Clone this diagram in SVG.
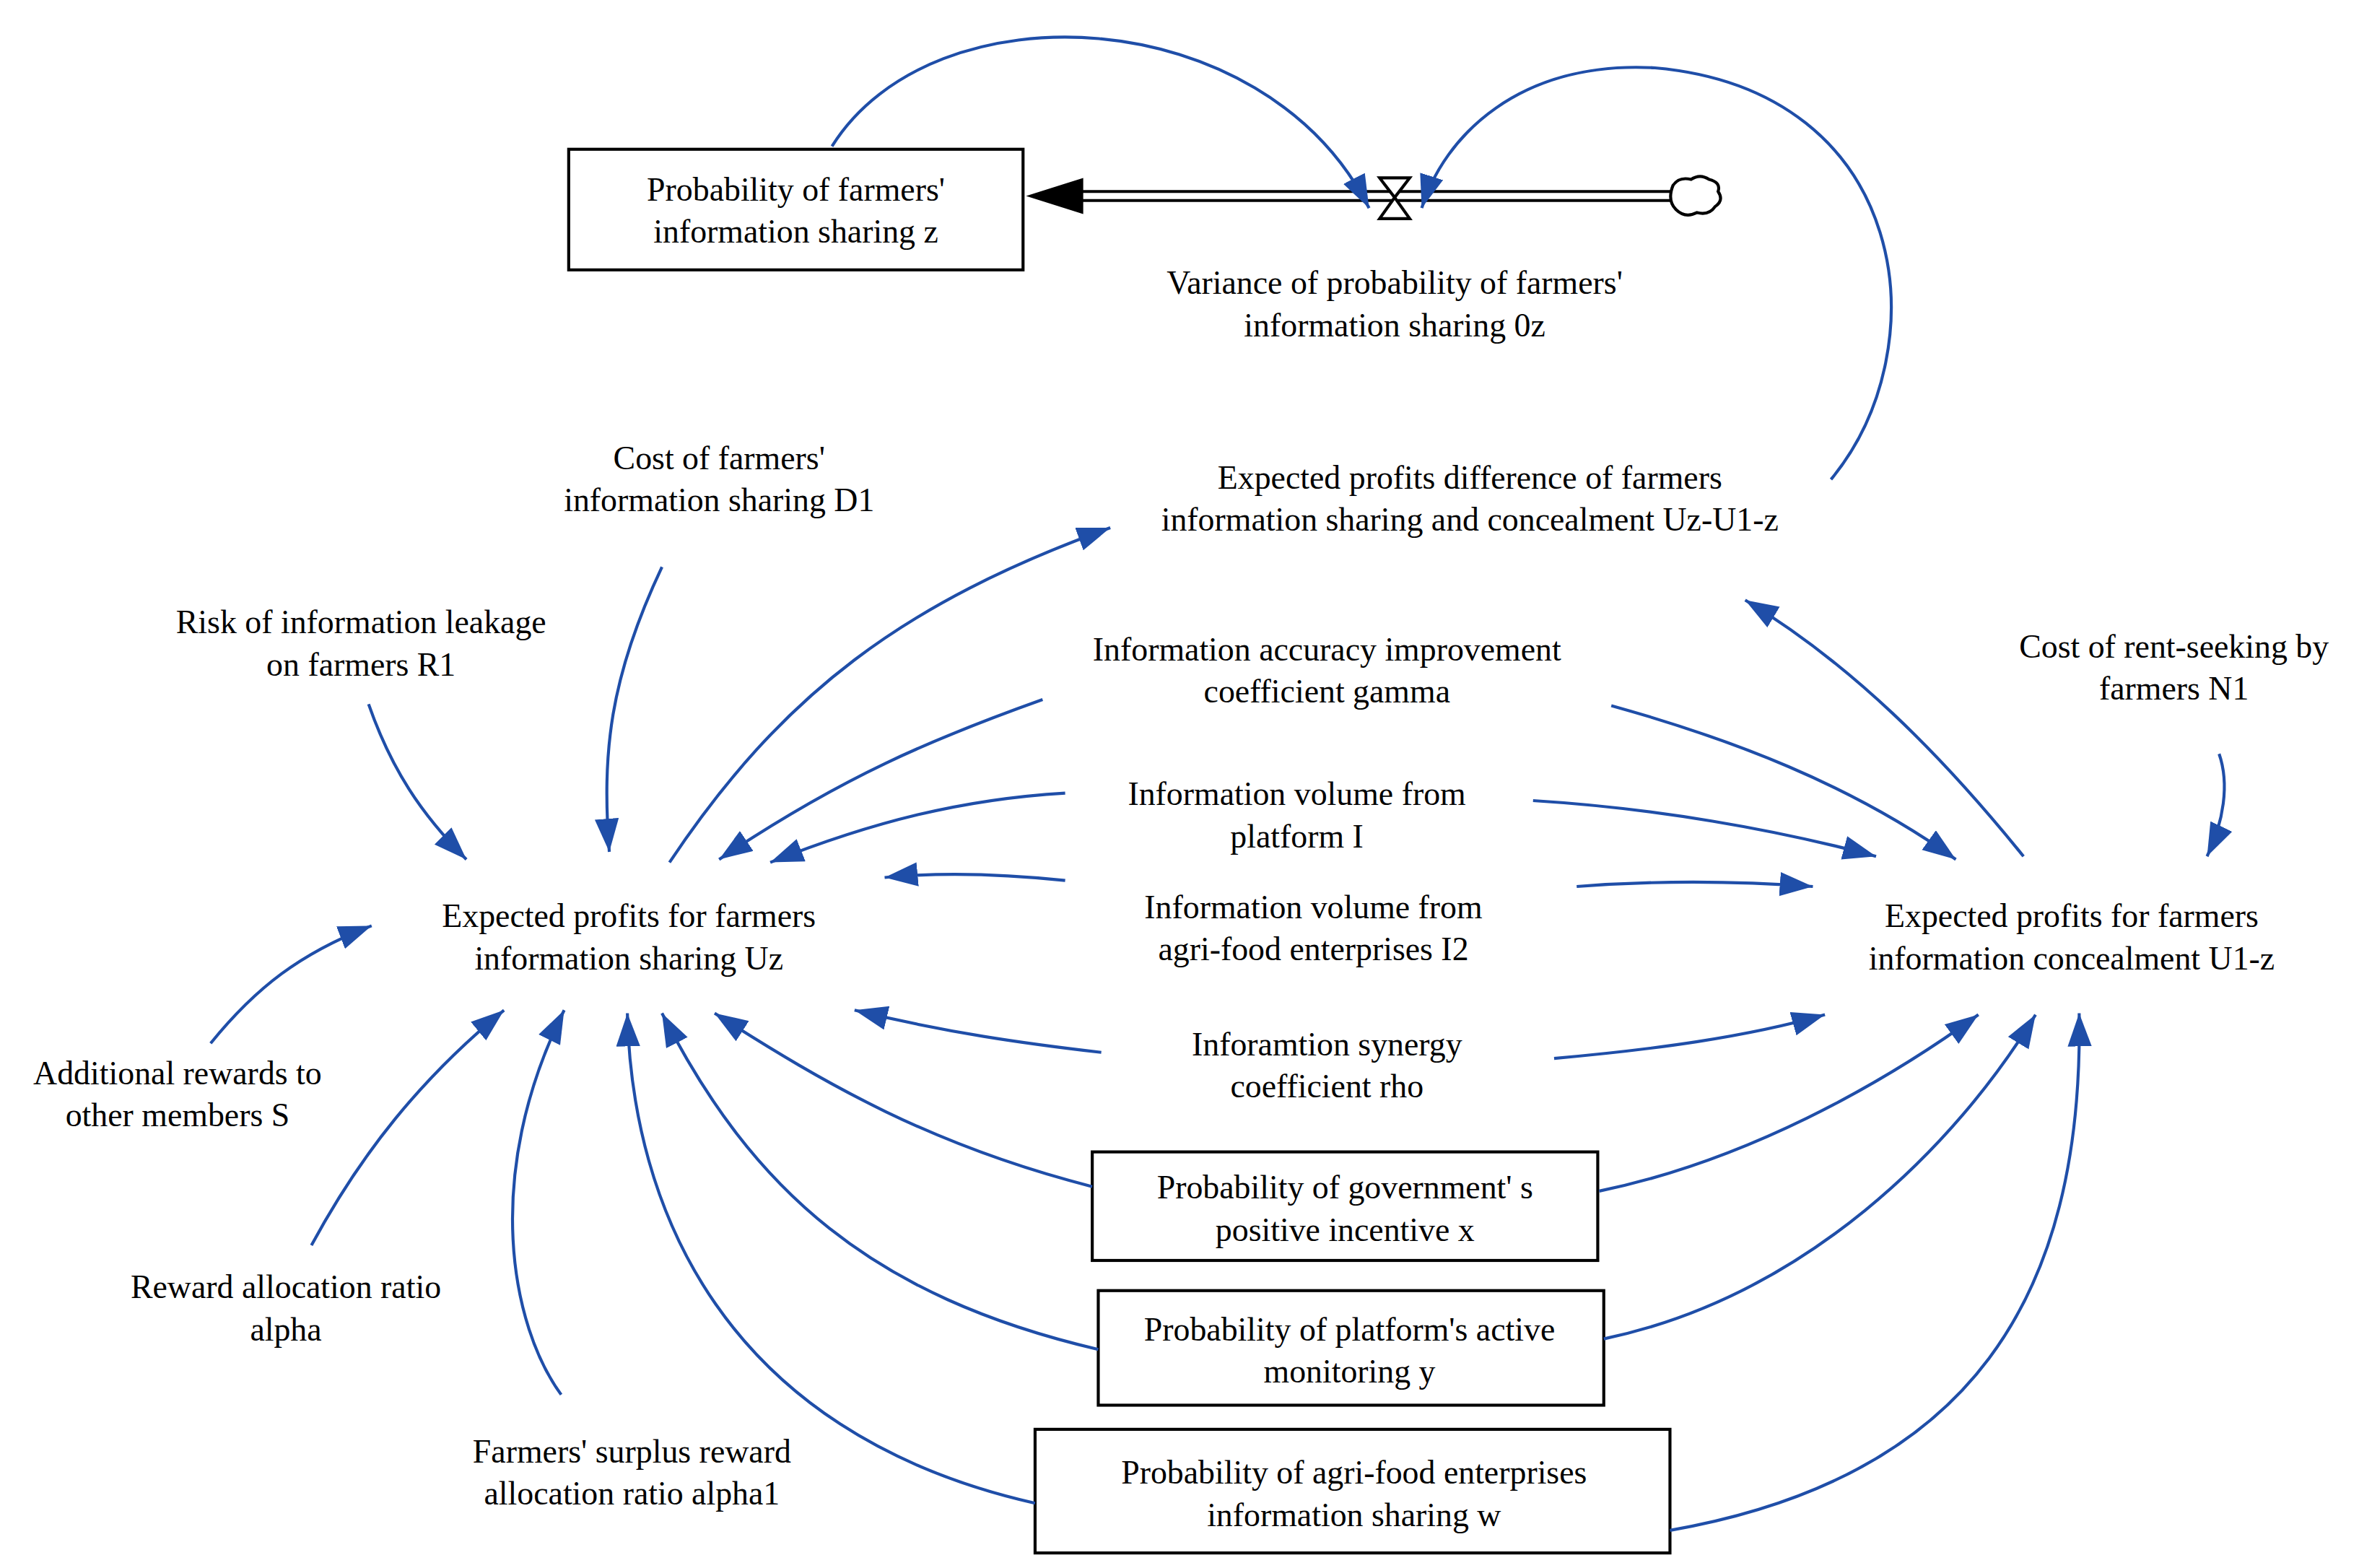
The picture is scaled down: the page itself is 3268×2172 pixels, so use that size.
<svg xmlns="http://www.w3.org/2000/svg" width="3268" height="2172" viewBox="0 0 3268 2172">
<style>
text{font-family:"Liberation Serif","Times New Roman",serif;font-size:22px;fill:#000;text-anchor:middle}
.c{fill:none;stroke:#1f4ea8;stroke-width:2}
.b{fill:#fff;stroke:#000;stroke-width:2}
</style>
<defs>
<marker id="a" markerUnits="userSpaceOnUse" markerWidth="24" markerHeight="18" refX="22" refY="8" orient="auto"><path d="M0,0 L22,8 L0,16 z" fill="#1f4ea8"/></marker>
</defs>
<rect width="3268" height="2172" fill="#fff"/>
<g transform="scale(2.0842,2.0885)">
<g id="stock-z"><rect class="b" x="378" y="99" width="302" height="80"/><text x="529" y="133">Probability of farmers'</text><text x="529" y="161">information sharing z</text></g>
<g id="flow">
<line x1="716" y1="127" x2="1112" y2="127" stroke="#000" stroke-width="2"/>
<line x1="716" y1="133" x2="1112" y2="133" stroke="#000" stroke-width="2"/>
<polygon points="682,130 720,118 720,142" fill="#000"/>
<polygon points="917,118 937,118 927,131" class="b"/>
<polygon points="917,145 937,145 927,131" class="b"/>
<path d="M1112,123 q4,-6 12,-4 q6,-4 12,0 q8,2 6,8 q4,6 -2,10 q-4,6 -12,4 q-8,4 -14,-2 q-6,-6 -2,-16 z" class="b"/>
<text x="927" y="195">Variance of probability of farmers'</text><text x="927" y="223">information sharing 0z</text>
</g>
<g id="D1"><text x="478" y="311">Cost of farmers'</text><text x="478" y="339">information sharing D1</text></g>
<g id="diff"><text x="977" y="324">Expected profits difference of farmers</text><text x="977" y="352">information sharing and concealment Uz-U1-z</text></g>
<g id="R1"><text x="240" y="420">Risk of information leakage</text><text x="240" y="448">on farmers R1</text></g>
<g id="gamma"><text x="882" y="438">Information accuracy improvement</text><text x="882" y="466">coefficient gamma</text></g>
<g id="N1"><text x="1445" y="436">Cost of rent-seeking by</text><text x="1445" y="464">farmers N1</text></g>
<g id="I"><text x="862" y="534">Information volume from</text><text x="862" y="562">platform I</text></g>
<g id="I2"><text x="873" y="609">Information volume from</text><text x="873" y="637">agri-food enterprises I2</text></g>
<g id="Uz"><text x="418" y="615">Expected profits for farmers</text><text x="418" y="643">information sharing Uz</text></g>
<g id="U1z"><text x="1377" y="615">Expected profits for farmers</text><text x="1377" y="643">information concealment U1-z</text></g>
<g id="rho"><text x="882" y="700">Inforamtion synergy</text><text x="882" y="728">coefficient rho</text></g>
<g id="S"><text x="118" y="719">Additional rewards to</text><text x="118" y="747">other members S</text></g>
<g id="x"><rect class="b" x="726" y="764" width="336" height="72"/><text x="894" y="795">Probability of government' s</text><text x="894" y="823">positive incentive x</text></g>
<g id="y"><rect class="b" x="730" y="856" width="336" height="76"/><text x="897" y="889">Probability of platform's active</text><text x="897" y="917">monitoring y</text></g>
<g id="w"><rect class="b" x="688" y="948" width="422" height="82"/><text x="900" y="984">Probability of agri-food enterprises</text><text x="900" y="1012">information sharing w</text></g>
<g id="alpha"><text x="190" y="861">Reward allocation ratio</text><text x="190" y="889">alpha</text></g>
<g id="alpha1"><text x="420" y="970">Farmers' surplus reward</text><text x="420" y="998">allocation ratio alpha1</text></g>
<g id="connectors" marker-end="url(#a)">
<path class="c" marker-end="url(#a)" d="M553,97 C620,-10 840,0 910,138"/>
<path class="c" marker-end="url(#a)" d="M1217,318 C1290,230 1270,60 1100,45 C1010,40 960,90 945,138"/>
<path class="c" marker-end="url(#a)" d="M440,376 C405,450 400,500 405,565"/>
<path class="c" marker-end="url(#a)" d="M245,467 C260,510 280,540 310,570"/>
<path class="c" marker-end="url(#a)" d="M445,572 C520,460 600,400 738,350"/>
<path class="c" marker-end="url(#a)" d="M693,464 C620,490 560,515 478,570"/>
<path class="c" marker-end="url(#a)" d="M708,526 C640,530 580,545 512,572"/>
<path class="c" marker-end="url(#a)" d="M708,584 C670,580 630,578 588,582"/>
<path class="c" marker-end="url(#a)" d="M732,698 C680,692 630,685 568,670"/>
<path class="c" marker-end="url(#a)" d="M726,787 C620,760 550,720 475,672"/>
<path class="c" marker-end="url(#a)" d="M730,895 C580,860 500,790 440,672"/>
<path class="c" marker-end="url(#a)" d="M688,997 C480,950 420,800 417,672"/>
<path class="c" marker-end="url(#a)" d="M140,692 C170,655 200,632 247,614"/>
<path class="c" marker-end="url(#a)" d="M207,826 C240,765 280,715 335,670"/>
<path class="c" marker-end="url(#a)" d="M373,925 C340,880 320,780 375,670"/>
<path class="c" marker-end="url(#a)" d="M1071,468 C1150,490 1230,520 1300,570"/>
<path class="c" marker-end="url(#a)" d="M1019,531 C1100,536 1180,550 1247,568"/>
<path class="c" marker-end="url(#a)" d="M1048,588 C1100,584 1150,584 1205,588"/>
<path class="c" marker-end="url(#a)" d="M1033,702 C1100,696 1160,688 1213,673"/>
<path class="c" marker-end="url(#a)" d="M1063,790 C1160,770 1250,720 1315,673"/>
<path class="c" marker-end="url(#a)" d="M1066,888 C1200,860 1300,760 1353,673"/>
<path class="c" marker-end="url(#a)" d="M1110,1015 C1310,980 1385,860 1382,672"/>
<path class="c" marker-end="url(#a)" d="M1475,500 C1482,520 1478,545 1467,568"/>
<path class="c" marker-end="url(#a)" d="M1345,568 C1290,500 1230,440 1160,398"/>
</g>
</g>
</svg>
